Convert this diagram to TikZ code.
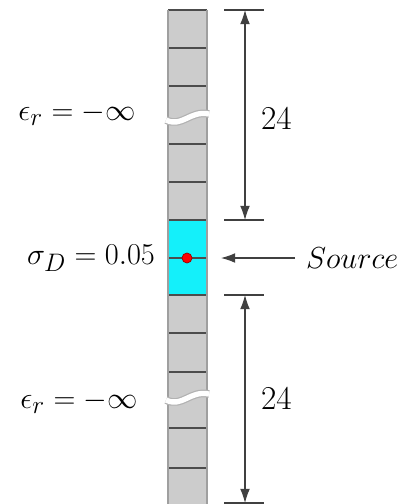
\documentclass[tikz,border=0pt]{standalone}
\usetikzlibrary{arrows.meta,positioning}
\definecolor{srccyan}{RGB}{20,240,250}
\begin{document}
\begin{tikzpicture}[x=0.02cm, y=-0.02cm,
    cellfill/.style={fill=gray!40},
    srcfill/.style={fill=srccyan},
    sep/.style={draw=gray!60!black, line width=0.6pt},
    edge/.style={draw=gray!75, line width=0.6pt},
    dim/.style={gray!50!black, line width=0.6pt},
    dimarrow/.style={dim, {Latex[length=8pt,width=5.5pt]}-{Latex[length=8pt,width=5.5pt]}},
    lab/.style={font=\fontsize{19}{23}\selectfont, inner sep=1pt}]
  \useasboundingbox (0,0) rectangle (407,504);
  % Column of cells
  \fill[cellfill] (168,10) rectangle (207,220);
  \fill[srcfill] (168,220) rectangle (207,295);
  \fill[cellfill] (168,295) rectangle (207,504);
  \foreach \y in {10,48,86,144,182,220,258,295,333,372,428,468}
    \draw[sep] (168,\y) -- (207,\y);
  \draw[edge] (168,10) -- (168,504);
  \draw[edge] (207,10) -- (207,504);
  % Breaks
  \foreach \y in {118,398} {
    \draw[gray!60, line width=4.4pt] (166,\y+2) .. controls (182,\y+10) and (190,\y-8) .. (209,\y-4);
    \draw[white, line width=3pt] (166,\y+2) .. controls (182,\y+10) and (190,\y-8) .. (209,\y-4);
  }
  % Source point
  \node[circle, fill=red, draw=red!60!black, inner sep=0pt, minimum size=0.2cm] (src) at (187,258) {};
  % Labels
  \node[lab, anchor=east] (epsup) at (138,114) {$\epsilon_r = -\infty$};
  \node[lab, anchor=east] (sigma) at (157,258) {$\sigma_D = 0.05$};
  \node[lab, anchor=east] (epslow) at (140,402) {$\epsilon_r = -\infty$};
  \node[lab, anchor=west] (srclab) at (304,258) {$Source$};
  \coordinate (srctip) at (221,258);
  \draw[dim, -{Latex[length=8pt,width=5.5pt]}, shorten <=5pt] (srclab.west) -- (srctip);
  % Upper dimension
  \draw[dim] (224,10) -- (264,10);
  \draw[dim] (224,220) -- (264,220);
  \coordinate (up1) at (245,10);
  \coordinate (up2) at (245,220);
  \draw[dimarrow] (up1) -- (up2);
  \node[lab, anchor=west] (lenup) at (259,118) {24};
  % Lower dimension
  \draw[dim] (224,295) -- (264,295);
  \draw[dim] (224,503) -- (264,503);
  \coordinate (lo1) at (245,295);
  \coordinate (lo2) at (245,503);
  \draw[dimarrow] (lo1) -- (lo2);
  \node[lab, anchor=west] (lenlo) at (259,398) {24};
\end{tikzpicture}
\end{document}
